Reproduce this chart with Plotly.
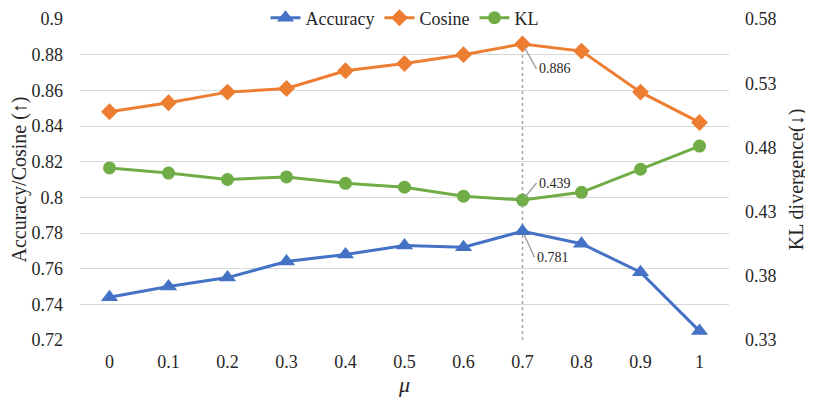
import plotly.graph_objects as go

# values
mu = ["0", "0.1", "0.2", "0.3", "0.4", "0.5", "0.6", "0.7", "0.8", "0.9", "1"]
accuracy = [0.744, 0.750, 0.755, 0.764, 0.768, 0.773, 0.772, 0.781, 0.774, 0.758, 0.725]
cosine = [0.848, 0.853, 0.859, 0.861, 0.871, 0.875, 0.880, 0.886, 0.882, 0.859, 0.842]
kl = [0.464, 0.460, 0.455, 0.457, 0.452, 0.449, 0.442, 0.439, 0.445, 0.463, 0.481]

best_i = mu.index("0.7")

font = "Liberation Serif, Times New Roman, serif"

fig = go.Figure()

fig.add_trace(go.Scatter(x=mu, y=accuracy, name="Accuracy", mode="lines+markers",
                         line=dict(color="#4472C4", width=3),
                         marker=dict(symbol="triangle-up", size=15, color="#4472C4")))
fig.add_trace(go.Scatter(x=mu, y=cosine, name="Cosine", mode="lines+markers",
                         line=dict(color="#ED7D31", width=3),
                         marker=dict(symbol="diamond", size=13, color="#ED7D31")))
fig.add_trace(go.Scatter(x=mu, y=kl, name="KL", mode="lines+markers", yaxis="y2",
                         line=dict(color="#70AD47", width=3),
                         marker=dict(symbol="circle", size=13, color="#70AD47")))

# dotted marker line at the best mu (category index on the x axis)
fig.add_shape(type="line", xref="x", yref="y", x0=best_i, x1=best_i,
              y0=0.72, y1=cosine[best_i],
              line=dict(color="#A6A6A6", width=1.5, dash="dot"), layer="below")

# value labels with leader lines
for val, yref, ax, ay in [(cosine[best_i], "y", 14, 25),
                          (kl[best_i], "y2", 14, -17),
                          (accuracy[best_i], "y", 12, 26)]:
    fig.add_annotation(x=best_i, y=val, xref="x", yref=yref, text=f"{val:.3f}",
                       showarrow=True, arrowhead=0, arrowcolor="#A6A6A6", arrowwidth=1.5,
                       ax=ax, ay=ay, xanchor="left", standoff=4,
                       font=dict(family=font, size=14, color="#262626"))

# the page adds an 8px body margin, so margins are set a bit off to land the plot right
fig.update_layout(
    width=813, height=401,
    margin=dict(l=72, r=92, t=11, b=69, autoexpand=False),
    paper_bgcolor="white", plot_bgcolor="white",
    font=dict(family=font, size=18, color="#262626"),
    showlegend=True,
    legend=dict(orientation="h", x=0.5, xanchor="center", y=1.003, yanchor="middle",
                font=dict(size=18), bgcolor="rgba(0,0,0,0)", itemwidth=30,
                tracegroupgap=0),
    xaxis=dict(type="category", tickfont=dict(size=18), showgrid=False,
               title=dict(text="<i>μ</i>", font=dict(size=22), standoff=0),
               range=[-0.5, 10.5], ticks="", automargin=False, ticklabelstandoff=9),
    yaxis=dict(range=[0.72, 0.9], dtick=0.02, tickformat="~g",
               gridcolor="#D9D9D9", gridwidth=1.2, zeroline=False, automargin=False,
               ticklabelstandoff=16,
               title=dict(text="Accuracy/Cosine (↑)", font=dict(size=20), standoff=4)),
    yaxis2=dict(range=[0.33, 0.58], tick0=0.33, dtick=0.05, overlaying="y", side="right",
                showgrid=False, zeroline=False, tickformat=".2f", automargin=False,
                ticklabelstandoff=15,
                title=dict(text="KL divergence(↓)", font=dict(size=20), standoff=13)),
)

fig.write_html("out.html")
